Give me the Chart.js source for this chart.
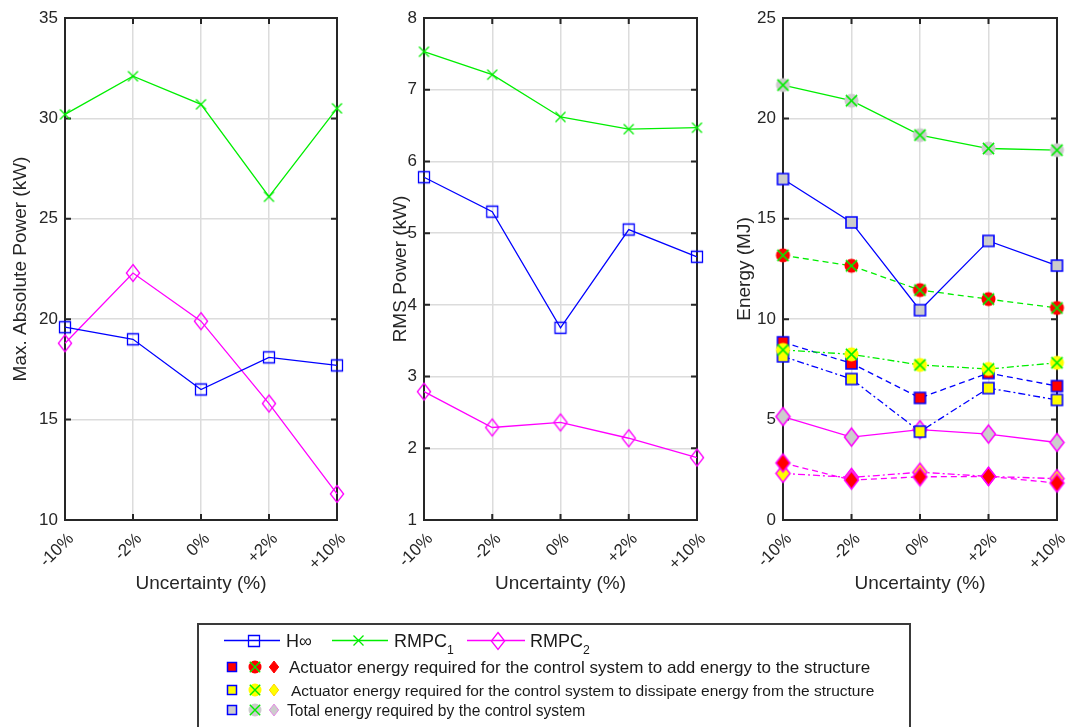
<!DOCTYPE html>
<html>
<head>
<meta charset="utf-8">
<script src="https://cdn.jsdelivr.net/npm/chart.js@4.4.1/dist/chart.umd.min.js"></script>
<style>
  body { margin: 0; background: #fff; width: 1067px; height: 727px; overflow: hidden; position: relative;
         font-family: "Liberation Sans", Arial, sans-serif; color: #262626; }
  canvas.panel { position: absolute; top: 0; }
  #legend { position: absolute; left: 197px; top: 623px; width: 710px; height: 110px;
            border: 2px solid #3a3a3a; background: #fff; }
  #legendIcons { position: absolute; left: 0; top: 0; }
  .lt { position: absolute; white-space: nowrap; line-height: 1; color: #1a1a1a; }
  .lt sub { font-size: 68%; vertical-align: -7px; line-height: 0; }
</style>
</head>
<body>
<canvas id="c1" class="panel" width="345" height="600" style="left:0px"></canvas>
<canvas id="c2" class="panel" width="345" height="600" style="left:360px"></canvas>
<canvas id="c3" class="panel" width="349" height="600" style="left:718px"></canvas>

<div id="legend">
  <canvas id="legendIcons" width="710" height="100"></canvas>
  <div class="lt" style="left:87px;top:6.5px;font-size:18px">H∞</div>
  <div class="lt" style="left:195px;top:6.5px;font-size:18px">RMPC<sub>1</sub></div>
  <div class="lt" style="left:331px;top:6.5px;font-size:18px">RMPC<sub>2</sub></div>
  <div class="lt" style="left:90px;top:33.7px;font-size:17px">Actuator energy required for the control system to add energy to the structure</div>
  <div class="lt" style="left:92px;top:57.7px;font-size:15.5px">Actuator energy required for the control system to dissipate energy from the structure</div>
  <div class="lt" style="left:88px;top:77.7px;font-size:15.6px">Total energy required by the control system</div>
</div>

<script>
// categories
const uncertainty = ['-10%', '-2%', '0%', '+2%', '+10%'];

// max absolute power (kW)
const maxHinf  = [19.6, 19.0, 16.5, 18.1, 17.7];
const maxRmpc1 = [30.2, 32.1, 30.7, 26.1, 30.5];
const maxRmpc2 = [18.8, 22.3, 19.9, 15.8, 11.3];

// RMS power (kW)
const rmsHinf  = [5.78, 5.30, 3.68, 5.05, 4.67];
const rmsRmpc1 = [7.53, 7.21, 6.62, 6.45, 6.47];
const rmsRmpc2 = [2.79, 2.29, 2.36, 2.14, 1.87];

// energy (MJ)
const eTotHinf  = [16.98, 14.82, 10.45, 13.90, 12.67];
const eAddHinf  = [8.85, 7.80, 6.08, 7.32, 6.67];
const eDisHinf  = [8.15, 7.02, 4.40, 6.57, 5.98];
const eTotRmpc1 = [21.66, 20.88, 19.17, 18.50, 18.42];
const eAddRmpc1 = [13.18, 12.66, 11.45, 11.00, 10.56];
const eDisRmpc1 = [8.47, 8.25, 7.72, 7.52, 7.83];
const eTotRmpc2 = [5.15, 4.13, 4.50, 4.28, 3.86];
const eAddRmpc2 = [2.84, 1.99, 2.15, 2.17, 1.84];
const eDisRmpc2 = [2.32, 2.12, 2.38, 2.17, 2.06];

const BLUE = '#0000ff', GREEN = '#00ee00', MAGENTA = '#ff00ff';
const GRAY = '#cccccc', RED = '#ff0000', YELLOW = '#ffff00';
const DASH = [6, 4], DASHDOT = [7, 3, 2, 3];

// marker images (MATLAB style)
function marker(shape, size, fill, stroke, lw) {
  const c = document.createElement('canvas');
  const s = Math.ceil(size + 2 * lw + 2);
  c.width = c.height = s;
  const g = c.getContext('2d');
  const m = s / 2, h = size / 2;
  g.lineWidth = lw;
  g.strokeStyle = stroke;
  g.fillStyle = fill;
  if (shape === 'square') {
    g.beginPath(); g.rect(m - h, m - h, size, size);
    if (fill) g.fill();
    g.stroke();
  } else if (shape === 'diamond') {
    g.beginPath();
    g.moveTo(m, m - h); g.lineTo(m + h * 0.78, m); g.lineTo(m, m + h); g.lineTo(m - h * 0.78, m);
    g.closePath();
    if (fill) g.fill();
    g.stroke();
  } else {
    if (shape === 'circlex') {
      g.beginPath(); g.arc(m, m, h, 0, 2 * Math.PI); g.fill();
    }
    const k = shape === 'circlex' ? h * 0.8 : h;
    g.beginPath();
    g.moveTo(m - k, m - k); g.lineTo(m + k, m + k);
    g.moveTo(m - k, m + k); g.lineTo(m + k, m - k);
    g.strokeStyle = GREEN;
    g.stroke();
  }
  return c;
}

const sqHollow = marker('square', 11, null, BLUE, 1.3);
const xMark    = marker('x', 10, null, GREEN, 1.3);
const diHollow = marker('diamond', 17, null, MAGENTA, 1.3);

const sqGray = marker('square', 11, GRAY, BLUE, 1.6);
const sqRed  = marker('square', 11, RED, BLUE, 1.6);
const sqYel  = marker('square', 11, YELLOW, BLUE, 1.6);
const ciGray = marker('circlex', 14, GRAY, GREEN, 1.5);
const ciRed  = marker('circlex', 14, RED, GREEN, 1.5);
const ciYel  = marker('circlex', 14, YELLOW, GREEN, 1.5);
const diGray = marker('diamond', 18, GRAY, MAGENTA, 1.5);
const diRed  = marker('diamond', 18, RED, MAGENTA, 1.5);
const diYel  = marker('diamond', 18, YELLOW, MAGENTA, 1.5);

function ds(label, data, color, img, dash) {
  return {
    label: label, data: data,
    borderColor: color, borderWidth: 1.3, borderDash: dash || [],
    pointStyle: img, pointRadius: 6, clip: false, tension: 0
  };
}

// axes box + inward ticks
const framePlugin = {
  id: 'frame',
  beforeDatasetsDraw(chart) {
    const { ctx, chartArea: a, scales: { x, y } } = chart;
    ctx.save();
    ctx.strokeStyle = '#262626';
    ctx.lineWidth = 2;
    ctx.beginPath();
    y.ticks.forEach(t => {
      const py = y.getPixelForValue(t.value);
      ctx.moveTo(a.left, py); ctx.lineTo(a.left + 6, py);
      ctx.moveTo(a.right, py); ctx.lineTo(a.right - 6, py);
    });
    x.ticks.forEach((t, i) => {
      const px = x.getPixelForTick(i);
      ctx.moveTo(px, a.bottom); ctx.lineTo(px, a.bottom - 6);
      ctx.moveTo(px, a.top); ctx.lineTo(px, a.top + 6);
    });
    ctx.stroke();
    ctx.strokeRect(a.left, a.top, a.right - a.left, a.bottom - a.top);
    ctx.restore();
  }
};

Chart.defaults.font.family = '"Liberation Sans", Arial, sans-serif';
Chart.defaults.color = '#262626';

function makeChart(id, yMin, yMax, step, yTitle, titlePad, yWidth, padRight, datasets) {
  return new Chart(document.getElementById(id), {
    type: 'line',
    data: { labels: uncertainty, datasets: datasets },
    plugins: [framePlugin],
    options: {
      responsive: false,
      animation: false,
      events: [],
      layout: { padding: { top: 18, right: padRight, left: 0, bottom: 0 } },
      plugins: { legend: { display: false }, tooltip: { enabled: false } },
      scales: {
        x: {
          type: 'category',
          offset: false,
          grid: { color: '#dcdcdc', lineWidth: 1.5, drawTicks: false },
          border: { display: false },
          ticks: { minRotation: 45, maxRotation: 45, padding: 9, labelOffset: 6,
                   font: { size: 17 }, color: '#262626' },
          title: { display: true, text: 'Uncertainty (%)', font: { size: 19 }, color: '#262626',
                   padding: { top: 0, bottom: 5 } },
          afterFit(scale) { scale.height = 80; scale.paddingLeft = 0; scale.paddingRight = 0; }
        },
        y: {
          min: yMin, max: yMax,
          grid: { color: '#dcdcdc', lineWidth: 1.5, drawTicks: false },
          border: { display: false },
          ticks: { stepSize: step, padding: 7, font: { size: 17 }, color: '#262626' },
          title: { display: true, text: yTitle, font: { size: 19 }, color: '#262626',
                   padding: { top: titlePad, bottom: 0 } },
          afterFit(scale) { scale.width = yWidth; }
        }
      }
    }
  });
}

makeChart('c1', 10, 35, 5, 'Max. Absolute Power (kW)', 9, 65, 8, [
  ds('H∞', maxHinf, BLUE, sqHollow),
  ds('RMPC1', maxRmpc1, GREEN, xMark),
  ds('RMPC2', maxRmpc2, MAGENTA, diHollow)
]);

makeChart('c2', 1, 8, 1, 'RMS Power (kW)', 29, 64, 8, [
  ds('H∞', rmsHinf, BLUE, sqHollow),
  ds('RMPC1', rmsRmpc1, GREEN, xMark),
  ds('RMPC2', rmsRmpc2, MAGENTA, diHollow)
]);

makeChart('c3', 0, 25, 5, 'Energy (MJ)', 15, 65, 10, [
  ds('RMPC1 total', eTotRmpc1, GREEN, ciGray),
  ds('H∞ total', eTotHinf, BLUE, sqGray),
  ds('RMPC1 add', eAddRmpc1, GREEN, ciRed, DASH),
  ds('RMPC1 dissipate', eDisRmpc1, GREEN, ciYel, DASHDOT),
  ds('H∞ add', eAddHinf, BLUE, sqRed, DASH),
  ds('H∞ dissipate', eDisHinf, BLUE, sqYel, DASHDOT),
  ds('RMPC2 total', eTotRmpc2, MAGENTA, diGray),
  ds('RMPC2 add', eAddRmpc2, MAGENTA, diRed, DASH),
  ds('RMPC2 dissipate', eDisRmpc2, MAGENTA, diYel, DASHDOT)
]);

// legend icons (coordinates relative to legend box interior)
(function drawLegend() {
  const g = document.getElementById('legendIcons').getContext('2d');
  function put(img, x, y) {
    g.drawImage(img, Math.round(x - img.width / 2), Math.round(y - img.height / 2));
  }
  function seg(x0, x1, y, color) {
    g.strokeStyle = color; g.lineWidth = 1.5;
    g.beginPath(); g.moveTo(x0, y); g.lineTo(x1, y); g.stroke();
  }
  const r1 = 15.5;
  seg(25, 81, r1, BLUE);    put(sqHollow, 55, r1);
  seg(133, 189, r1, GREEN); put(xMark, 159, r1);
  seg(268, 326, r1, MAGENTA); put(diHollow, 299, r1);

  const rows = [[42, RED], [65.3, YELLOW], [85.3, GRAY]];
  rows.forEach(([y, col]) => {
    put(marker('square', 9, col, BLUE, 1.5), 33, y);
    put(marker('circlex', 13, col, GREEN, 1.4), 56, y);
    put(marker('diamond', 12, col, col === RED ? RED : (col === GRAY ? '#e58ae5' : '#ffd200'), 1), 75, y);
  });
})();
</script>
</body>
</html>
